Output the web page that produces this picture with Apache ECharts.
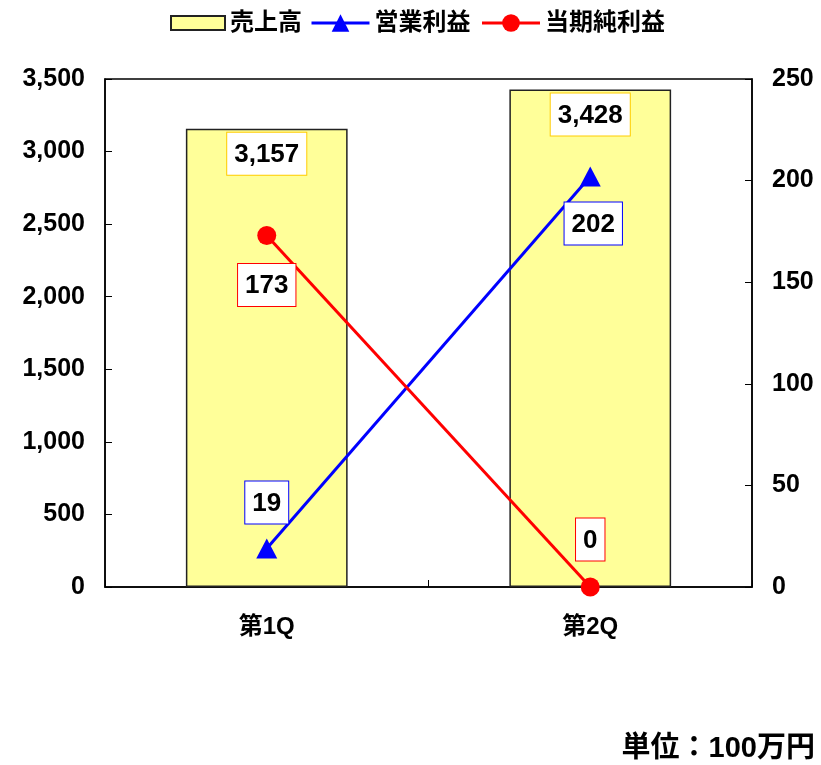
<!DOCTYPE html>
<html>
<head>
<meta charset="utf-8">
<script src="https://cdn.jsdelivr.net/npm/echarts@6/dist/echarts.min.js"></script>
<style>
  html, body { margin: 0; padding: 0; background: #fff; }
  #chart { width: 821px; height: 765px; }
</style>
</head>
<body>
<div id="chart"></div>
<script>
// Quarterly results (unit: 100 million yen)
const quarters = ['第1Q', '第2Q'];
const sales = [3157, 3428];            // 売上高 (left axis)
const operatingProfit = [19, 202];     // 営業利益 (right axis)
const netProfit = [173, 0];            // 当期純利益 (right axis)
const seriesNames = ['売上高', '営業利益', '当期純利益'];

const FONT = "'Liberation Sans', 'Noto Sans CJK JP', sans-serif";
const fmt = v => v.toLocaleString('en-US');

const chart = echarts.init(document.getElementById('chart'), null, { renderer: 'canvas' });

const boxLabel = (border, extra) => Object.assign({
  show: true,
  formatter: p => fmt(p.value),
  color: '#000',
  fontFamily: FONT,
  fontSize: 26,
  fontWeight: 'bold',
  backgroundColor: '#fff',
  borderColor: border,
  borderWidth: 1,
  padding: [9, 7, 7, 7]
}, extra);

// Per-point label placement for the line series
const lineData = (values, positions, border) => values.map((v, i) => ({
  value: v,
  label: boxLabel(border, positions[i])
}));

const legendText = { fontSize: 24, fontWeight: 'bold', color: '#000', fontFamily: FONT };
const axisLabelStyle = { color: '#000', fontSize: 25, fontWeight: 'bold', margin: 20, fontFamily: FONT };

chart.setOption({
  animation: false,
  textStyle: { fontFamily: FONT },
  legend: [
    {
      data: [{ name: seriesNames[0], icon: 'rect' }],
      top: 6,
      left: 165,
      itemWidth: 54,
      itemHeight: 14,
      itemGap: 8,
      textStyle: legendText
    },
    {
      data: [seriesNames[1], seriesNames[2]],
      top: 6,
      left: 305,
      itemWidth: 58,
      itemHeight: 22,
      itemGap: 10,
      lineStyle: { width: 3 },
      textStyle: legendText
    }
  ],
  grid: {
    left: 105, right: 69, top: 79, bottom: 178,
    show: true, borderColor: '#000', borderWidth: 1.5, backgroundColor: 'transparent'
  },
  xAxis: {
    type: 'category',
    data: quarters,
    axisLine: { lineStyle: { color: '#000', width: 1.5 } },
    axisTick: { show: true, inside: true, length: 7, lineStyle: { color: '#000' } },
    axisLabel: { color: '#000', fontSize: 24, fontWeight: 'bold', margin: 28, fontFamily: FONT }
  },
  yAxis: [
    {
      type: 'value', min: 0, max: 3500, interval: 500,
      axisLine: { show: true, lineStyle: { color: '#000', width: 1.5 } },
      axisTick: { show: true, inside: true, length: 7, lineStyle: { color: '#000' } },
      splitLine: { show: false },
      axisLabel: Object.assign({ formatter: v => fmt(v) }, axisLabelStyle)
    },
    {
      type: 'value', min: 0, max: 250, interval: 50,
      axisLine: { show: true, lineStyle: { color: '#000', width: 1.5 } },
      axisTick: { show: true, inside: true, length: 7, lineStyle: { color: '#000' } },
      splitLine: { show: false },
      axisLabel: axisLabelStyle
    }
  ],
  series: [
    {
      name: seriesNames[0],
      type: 'bar',
      yAxisIndex: 0,
      data: sales,
      barWidth: '50%',
      itemStyle: { color: '#FFFF99', borderColor: '#222', borderWidth: 1.5 },
      label: boxLabel('#FFCC00', { position: 'insideTop', distance: 4 }),
      z: 2
    },
    {
      name: seriesNames[1],
      type: 'line',
      yAxisIndex: 1,
      data: lineData(operatingProfit,
        [{ position: 'top', distance: 15 }, { position: 'bottom', distance: 16, offset: [3, 0] }],
        '#0000FF'),
      symbol: 'triangle',
      symbolSize: [21, 20],
      lineStyle: { color: '#0000FF', width: 3 },
      itemStyle: { color: '#0000FF' },
      z: 4
    },
    {
      name: seriesNames[2],
      type: 'line',
      yAxisIndex: 1,
      data: lineData(netProfit,
        [{ position: 'bottom', distance: 19 }, { position: 'top', distance: 17 }],
        '#FF0000'),
      symbol: 'circle',
      symbolSize: 19,
      lineStyle: { color: '#FF0000', width: 3 },
      itemStyle: { color: '#FF0000' },
      z: 4
    }
  ],
  graphic: [
    {
      type: 'text',
      right: 6,
      top: 734,
      style: { text: '単位：100万円', fontSize: 29, fontWeight: 'bold', fill: '#000', fontFamily: FONT }
    }
  ]
});
</script>
</body>
</html>
